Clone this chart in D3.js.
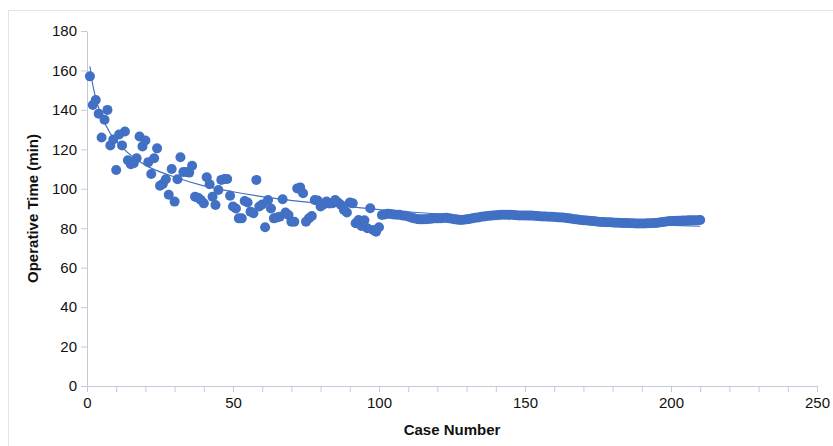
<!DOCTYPE html>
<html>
<head>
<meta charset="utf-8">
<script src="https://cdn.jsdelivr.net/npm/d3@7"></script>
<style>
  body { margin: 0; background: #fff; }
  svg { display: block; font-family: "Liberation Sans", Arial, Helvetica, sans-serif; }
  .axis path, .axis line { stroke: #c3cbdb; }
  .axis text { fill: #111; font-size: 15px; }
</style>
</head>
<body>
<svg id="chart"></svg>
<script>
// operative time per case (cases 1..101 scattered, then the smoothed band to 210)
const earlyTimes = [
  157, 142.5, 145, 138, 126, 135, 140, 122, 125, 109.5,
  127.5, 122, 129, 114.5, 112.5, 113, 115.5, 126.5, 121.5, 124.5,
  113.5, 107.5, 115.5, 120.5, 101.5, 102.5, 104.8, 97, 110, 93.5,
  104.8, 116, 108.5, 108.5, 108.2, 111.7, 96, 95.5, 94.3, 92.6,
  105.8, 102.3, 96, 91.8, 99.4, 104.5, 105, 105, 96.5, 91,
  90, 85, 85, 93.8, 93, 88.4, 87.6, 104.5, 91, 92,
  80.5, 94.3, 90, 85, 85.5, 85.8, 94.7, 88, 86.7, 83.3,
  83.3, 100.2, 100.7, 97.7, 83.3, 85, 86.2, 94.3, 94, 91,
  92, 93.5, 92.5, 92.6, 94.3, 93, 91.8, 89.2, 88, 93,
  92.6, 82.5, 84.2, 81.1, 84, 80, 90.1, 79.1, 78.2, 80.5,
  86.7
];
const lateTimes = [
  87, 87.3, 87.2, 87, 86.8, 86.8, 86.5, 86.3, 86,
  85.5, 85, 84.7, 84.5, 84.5, 84.6, 84.7, 84.8, 85, 85,
  85, 85.2, 85.3, 85, 84.8, 84.5, 84.3, 84.2, 84.3, 84.5,
  84.7, 85, 85.3, 85.5, 85.8, 86, 86.2, 86.3, 86.5, 86.6,
  86.7, 86.8, 86.8, 86.8, 86.8, 86.7, 86.6, 86.5, 86.5, 86.5,
  86.4, 86.4, 86.3, 86.2, 86.1, 86, 85.9, 85.8, 85.8, 85.7,
  85.6, 85.5, 85.4, 85.2, 85, 84.8, 84.6, 84.4, 84.2, 84,
  83.9, 83.8, 83.6, 83.5, 83.3, 83.2, 83.1, 83, 83, 82.9,
  82.8, 82.8, 82.7, 82.6, 82.6, 82.5, 82.5, 82.4, 82.4, 82.4,
  82.4, 82.5, 82.5, 82.6, 82.7, 82.9, 83.1, 83.3, 83.5, 83.6,
  83.7, 83.8, 83.8, 83.9, 83.9, 84, 84, 84, 84.1, 84.2
];
// trendline
const trendCases = [1, 2, 3, 5, 8, 12, 20, 30, 40, 50, 65, 80, 100, 130, 160, 190, 210];
const trendTimes = [162, 152.5, 146, 137, 128, 121, 112, 106, 101.5, 98.5, 95, 92.5, 89.5, 86.3, 84, 82, 81];

const xTicks = [0, 50, 100, 150, 200, 250];
const yTicks = [0, 20, 40, 60, 80, 100, 120, 140, 160, 180];

const times = earlyTimes.concat(lateTimes);
const points = times.map((t, i) => [i + 1, t]);
const trend = trendCases.map((c, i) => [c, trendTimes[i]]);

const width = 833, height = 446;
const margin = {top: 31, right: 16, bottom: 60, left: 87};
const blue = "#4170c4";

const svg = d3.select("#chart")
  .attr("width", width)
  .attr("height", height);

svg.append("rect")
  .attr("x", 8.5).attr("y", 10.5)
  .attr("width", 900).attr("height", 500)
  .attr("fill", "none")
  .attr("stroke", "#e1e4ec");

const x = d3.scaleLinear()
  .domain([0, 250])
  .range([margin.left, width - margin.right]);

const y = d3.scaleLinear()
  .domain([0, 180])
  .range([height - margin.bottom, margin.top]);

// minor ticks every 10 on x
svg.append("g")
  .attr("class", "axis")
  .attr("transform", `translate(0,${y(0)})`)
  .call(d3.axisBottom(x).tickValues(d3.range(0, 251, 10)).tickSize(6).tickFormat(""))
  .call(g => g.select(".domain").remove());

svg.append("g")
  .attr("class", "axis")
  .attr("transform", `translate(0,${y(0)})`)
  .call(d3.axisBottom(x).tickValues(xTicks).tickSize(6).tickSizeOuter(0).tickPadding(5));

svg.append("g")
  .attr("class", "axis")
  .attr("transform", `translate(${x(0)},0)`)
  .call(d3.axisLeft(y).tickValues(yTicks).tickSize(6).tickSizeOuter(0).tickPadding(4));

svg.append("g")
  .selectAll("circle")
  .data(points)
  .enter()
  .append("circle")
  .attr("cx", d => x(d[0]))
  .attr("cy", d => y(d[1]))
  .attr("r", 5)
  .attr("fill", blue);

const line = d3.line()
  .x(d => x(d[0]))
  .y(d => y(d[1]))
  .curve(d3.curveMonotoneX);

svg.append("path")
  .datum(trend)
  .attr("fill", "none")
  .attr("stroke", blue)
  .attr("stroke-width", 1.2)
  .attr("d", line);

svg.append("text")
  .attr("x", x(125))
  .attr("y", 435)
  .attr("text-anchor", "middle")
  .attr("font-size", 15)
  .attr("font-weight", "bold")
  .attr("fill", "#111")
  .text("Case Number");

svg.append("text")
  .attr("transform", `translate(38,${y(90)}) rotate(-90)`)
  .attr("text-anchor", "middle")
  .attr("font-size", 15)
  .attr("font-weight", "bold")
  .attr("fill", "#111")
  .text("Operative Time (min)");
</script>
</body>
</html>
